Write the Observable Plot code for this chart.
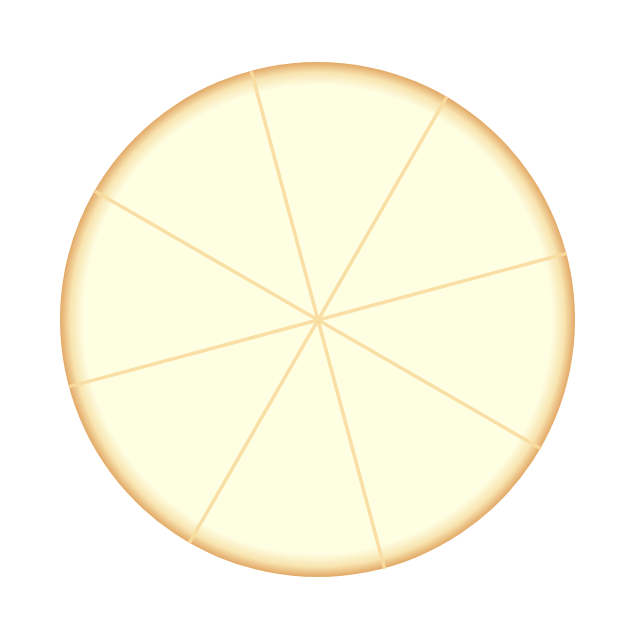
<!DOCTYPE html>
<html><head><meta charset="utf-8">
<script src="https://cdn.jsdelivr.net/npm/d3@7"></script>
<script src="https://cdn.jsdelivr.net/npm/@observablehq/plot@0.6"></script>
<style>body{margin:0;background:#fff}</style>
</head><body><div id="chart"></div>
<script>
const categories = ["A","B","C","D","E","F","G","H"];
const values = [1,1,1,1,1,1,1,1];
const startAngle = -15; // degrees, clockwise from north

const pie = d3.pie().sort(null).value(d => d.value)
  .startAngle(startAngle*Math.PI/180).endAngle((startAngle+360)*Math.PI/180);
const arcs = pie(categories.map((c,i)=>({category:c, value:values[i]})));
const spokes = arcs.map(a => ({x1:0, y1:0, x2:Math.sin(a.startAngle), y2:Math.cos(a.startAngle)}));

const disk = (index, scales, values, dimensions) => {
  const cx = scales.x(0), cy = scales.y(0), r = scales.x(1) - scales.x(0);
  const ns = "http://www.w3.org/2000/svg";
  const g = document.createElementNS(ns, "g");
  g.innerHTML = `<defs><radialGradient id="rg" gradientUnits="userSpaceOnUse" cx="${cx}" cy="${cy}" r="${r}">
    <stop offset="0" stop-color="#fefee2"/>
    <stop offset="0.91" stop-color="#fefee2"/>
    <stop offset="0.96" stop-color="#f8e4b0"/>
    <stop offset="1" stop-color="#e2a866"/>
  </radialGradient></defs>
  <circle cx="${cx}" cy="${cy}" r="${r}" fill="url(#rg)"/>`;
  return g;
};

const chart = Plot.plot({
  width: 636, height: 638,
  marginLeft: 60, marginRight: 61, marginTop: 62, marginBottom: 61,
  x: {domain: [-1, 1], axis: null},
  y: {domain: [-1, 1], axis: null},
  marks: [
    disk,
    Plot.link(spokes, {x1:"x1", y1:"y1", x2:"x2", y2:"y2", stroke:"#f8dc9e", strokeWidth:3.5, strokeOpacity:0.9})
  ]
});
document.getElementById("chart").append(chart);
</script></body></html>
